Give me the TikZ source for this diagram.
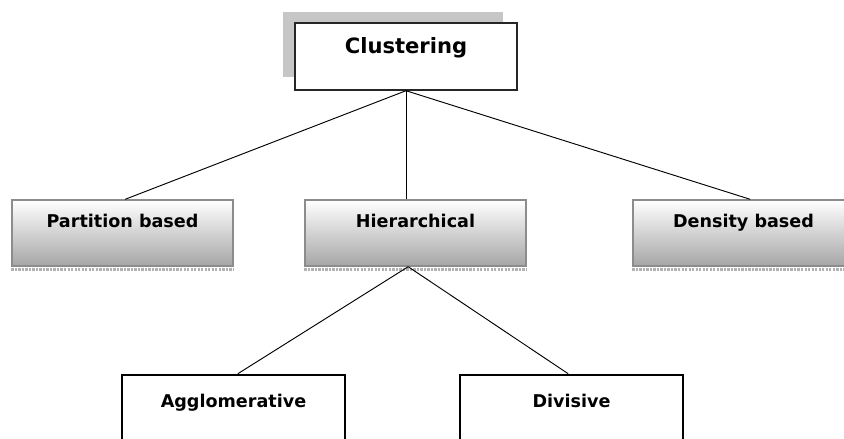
\documentclass[tikz,border=0pt]{standalone}
\usepackage{fontspec}
\setmainfont{DejaVu Sans}
\tikzset{
    clusbox/.style={draw=black!85, line width=1.2pt, fill=white, inner sep=0pt,
        minimum width=6.66cm, minimum height=2.01cm, text height=0.9cm, text depth=1.11cm,
        font=\bfseries\fontsize{18pt}{20pt}\selectfont},
    graybox/.style={draw=gray!90, line width=1.2pt, inner sep=0pt,
        top color=white, bottom color=gray!70,
        minimum width=6.63cm, minimum height=1.98cm, text height=0.81cm, text depth=1.17cm,
        font=\bfseries\fontsize{15pt}{17pt}\selectfont},
    blackbox/.style={draw=black, line width=2.2pt, fill=white, inner sep=0pt,
        minimum width=6.69cm, minimum height=1.98cm, text height=0.96cm, text depth=1.02cm,
        font=\bfseries\fontsize{15pt}{17pt}\selectfont},
    boxshadow/.style={gray!60, line width=2pt, densely dotted},
    link/.style={black, line width=0.8pt}
}
\begin{document}
\begin{tikzpicture}[x=0.03cm, y=-0.03cm]

    \useasboundingbox (0,0) rectangle (844,438);

    \fill[gray!45] (283,12) rectangle (503,77);

    \node[clusbox] (clus) at (406,56.5) {Clustering};

    \node[graybox] (part) at (122.5,233) {Partition based};
    \node[graybox] (hier) at (415.5,233) {Hierarchical};
    \node[graybox] (dens) at (743.5,233) {Density based};

    \foreach \n in {part,hier,dens}
        \draw[boxshadow] ([yshift=-2.5pt]\n.south west) -- ([yshift=-2.5pt]\n.south east);

    \node[blackbox] (aggl) at (233.5,408) {Agglomerative};
    \node[blackbox] (divi) at (571.5,408) {Divisive};

    \draw[link] (clus.south) -- ([xshift=0.08cm]part.north);
    \draw[link] (clus.south) -- (clus.south |- hier.north);
    \draw[link] (clus.south) -- ([xshift=0.2cm]dens.north);
    \draw[link] ([xshift=-0.22cm]hier.south) -- ([xshift=0.13cm]aggl.north);
    \draw[link] ([xshift=-0.22cm]hier.south) -- ([xshift=-0.1cm]divi.north);

\end{tikzpicture}
\end{document}
